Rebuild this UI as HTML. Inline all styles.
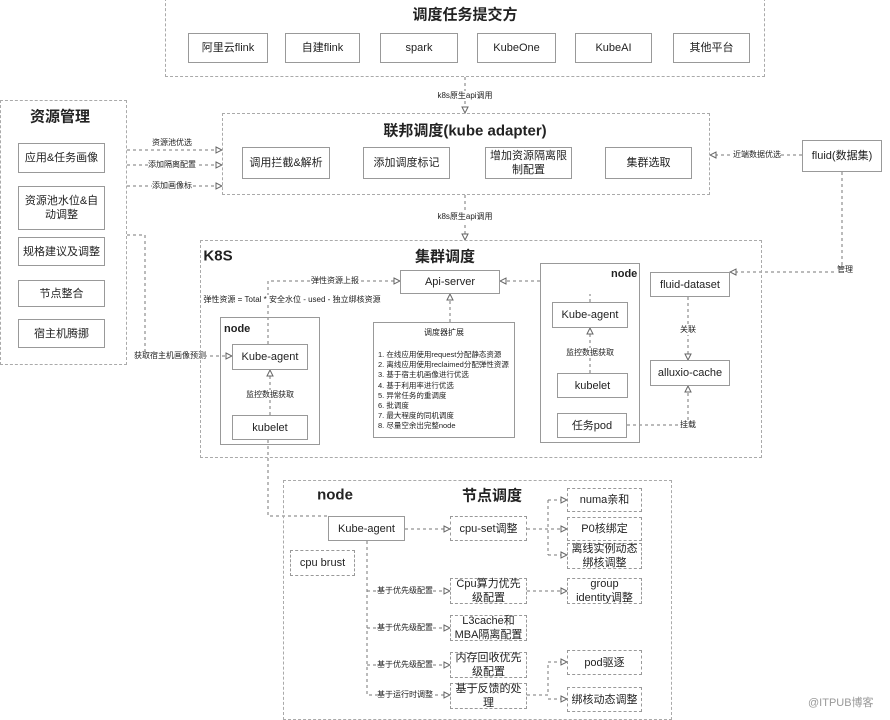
<!DOCTYPE html>
<html><head><meta charset="utf-8"><style>
body{margin:0;width:890px;height:717px;background:#fff;position:relative;overflow:hidden;font-family:"Liberation Sans","Noto Sans CJK SC",sans-serif;color:#222}
.b{position:absolute;box-sizing:border-box;border:1px solid #999;background:#fff;display:flex;align-items:center;justify-content:center;text-align:center;font-size:11px;line-height:14px}
.d{position:absolute;box-sizing:border-box;border:1.5px dashed #aaa}
.s{position:absolute;box-sizing:border-box;border:1px solid #999}
.t{position:absolute;white-space:nowrap;font-size:8px;background:#fff;transform:translate(-50%,-50%);line-height:10px}
.h{position:absolute;white-space:nowrap;font-weight:bold;font-size:15px;transform:translate(-50%,-50%)}
.dd{border:1px dashed #999}
svg{position:absolute;left:0;top:0}
</style></head><body>
<svg width="890" height="717" fill="none" stroke="#777" stroke-width="1" stroke-dasharray="3,3">
<defs><marker id="a" markerWidth="8" markerHeight="8" refX="7" refY="4" orient="auto"><path d="M1,1 L7,4 L1,7 Z" fill="#fff" stroke="#666" stroke-dasharray="none"/></marker></defs>
<path d="M465 77V113" marker-end="url(#a)"/>
<path d="M465 195V240" marker-end="url(#a)"/>
<path d="M127 150H222" marker-end="url(#a)"/>
<path d="M127 165H222" marker-end="url(#a)"/>
<path d="M127 186H222" marker-end="url(#a)"/>
<path d="M802 155H710" marker-end="url(#a)"/>
<path d="M842 172V272H730" marker-end="url(#a)"/>
<path d="M268 344V281H400" marker-end="url(#a)"/>
<path d="M540 281H500" marker-end="url(#a)"/>
<path d="M450 322V294" marker-end="url(#a)"/>
<path d="M590 302V294" />
<path d="M127 235H145V356H232" marker-end="url(#a)"/>
<path d="M270 415V370" marker-end="url(#a)"/>
<path d="M590 373V328" marker-end="url(#a)"/>
<path d="M688 297V360" marker-end="url(#a)"/>
<path d="M627 425H688V386" marker-end="url(#a)"/>
<path d="M268 440V516H328"/>
<path d="M405 529H450" marker-end="url(#a)"/>
<path d="M527 529H567" marker-end="url(#a)"/>
<path d="M548 500V555" />
<path d="M548 500H567" marker-end="url(#a)"/><path d="M548 555H567" marker-end="url(#a)"/>
<path d="M367 541V695H450" marker-end="url(#a)"/>
<path d="M367 591H450" marker-end="url(#a)"/>
<path d="M367 628H450" marker-end="url(#a)"/>
<path d="M367 665H450" marker-end="url(#a)"/>
<path d="M527 591H567" marker-end="url(#a)"/>
<path d="M527 695H548V662H567" marker-end="url(#a)"/>
<path d="M548 699H567" marker-end="url(#a)"/>
</svg>
<div class="d" style="left:165px;top:-2px;width:600px;height:79px"></div>
<div class="h" style="left:465px;top:14px">调度任务提交方</div>
<div class="b" style="left:188px;top:33px;width:80px;height:30px">阿里云flink</div>
<div class="b" style="left:285px;top:33px;width:75px;height:30px">自建flink</div>
<div class="b" style="left:380px;top:33px;width:78px;height:30px">spark</div>
<div class="b" style="left:477px;top:33px;width:79px;height:30px">KubeOne</div>
<div class="b" style="left:575px;top:33px;width:77px;height:30px">KubeAI</div>
<div class="b" style="left:673px;top:33px;width:77px;height:30px">其他平台</div>
<div class="t" style="left:465px;top:96px">k8s原生api调用</div>
<div class="d" style="left:222px;top:113px;width:488px;height:82px"></div>
<div class="h" style="left:465px;top:130px">联邦调度(kube adapter)</div>
<div class="b" style="left:242px;top:147px;width:88px;height:32px">调用拦截&amp;解析</div>
<div class="b" style="left:363px;top:147px;width:87px;height:32px">添加调度标记</div>
<div class="b" style="left:485px;top:147px;width:87px;height:32px">增加资源隔离限<br>制配置</div>
<div class="b" style="left:605px;top:147px;width:87px;height:32px">集群选取</div>
<div class="t" style="left:465px;top:217px">k8s原生api调用</div>
<div class="d" style="left:0;top:100px;width:127px;height:265px"></div>
<div class="h" style="left:60px;top:116px">资源管理</div>
<div class="b" style="left:18px;top:143px;width:87px;height:30px">应用&amp;任务画像</div>
<div class="b" style="left:18px;top:186px;width:87px;height:44px">资源池水位&amp;自<br>动调整</div>
<div class="b" style="left:18px;top:237px;width:87px;height:29px">规格建议及调整</div>
<div class="b" style="left:18px;top:280px;width:87px;height:27px">节点整合</div>
<div class="b" style="left:18px;top:319px;width:87px;height:29px">宿主机腾挪</div>
<div class="t" style="left:172px;top:143px">资源池优选</div>
<div class="t" style="left:172px;top:165px">添加隔离配置</div>
<div class="t" style="left:172px;top:186px">添加画像标</div>
<div class="t" style="left:170px;top:356px">获取宿主机画像预测</div>
<div class="b" style="left:802px;top:140px;width:80px;height:32px">fluid(数据集)</div>
<div class="t" style="left:757px;top:155px">近端数据优选</div>
<div class="t" style="left:845px;top:270px">管理</div>
<div class="d" style="left:200px;top:240px;width:562px;height:218px"></div>
<div class="h" style="left:218px;top:256px">K8S</div>
<div class="h" style="left:445px;top:256px">集群调度</div>
<div class="b" style="left:400px;top:270px;width:100px;height:24px">Api-server</div>
<div class="t" style="left:335px;top:281px">弹性资源上报</div>
<div class="t" style="left:292px;top:300px">弹性资源 = Total * 安全水位 - used - 独立绑核资源</div>
<div class="s" style="left:220px;top:317px;width:100px;height:128px"></div>
<div style="position:absolute;left:224px;top:323px;font-size:11px;font-weight:bold">node</div>
<div class="b" style="left:232px;top:344px;width:76px;height:26px">Kube-agent</div>
<div class="t" style="left:270px;top:395px">监控数据获取</div>
<div class="b" style="left:232px;top:415px;width:76px;height:25px">kubelet</div>
<div class="s" style="left:373px;top:322px;width:142px;height:116px"></div>
<div class="t" style="left:444px;top:333px">调度器扩展</div>
<div style="position:absolute;left:378px;top:350px;font-size:7.5px;line-height:10.2px;white-space:nowrap">1. 在线应用使用request分配静态资源<br>2. 离线应用使用reclaimed分配弹性资源<br>3. 基于宿主机画像进行优选<br>4. 基于利用率进行优选<br>5. 异常任务的重调度<br>6. 批调度<br>7. 最大程度的同机调度<br>8. 尽量空余出完整node</div>
<div class="s" style="left:540px;top:263px;width:100px;height:180px"></div>
<div style="position:absolute;left:611px;top:268px;font-size:11px;font-weight:bold">node</div>
<div class="b" style="left:552px;top:302px;width:76px;height:26px">Kube-agent</div>
<div class="t" style="left:590px;top:353px">监控数据获取</div>
<div class="b" style="left:557px;top:373px;width:71px;height:25px">kubelet</div>
<div class="b" style="left:557px;top:413px;width:70px;height:25px">任务pod</div>
<div class="b" style="left:650px;top:272px;width:80px;height:25px">fluid-dataset</div>
<div class="t" style="left:688px;top:330px">关联</div>
<div class="b" style="left:650px;top:360px;width:80px;height:26px">alluxio-cache</div>
<div class="t" style="left:688px;top:425px">挂载</div>
<div class="d" style="left:283px;top:480px;width:389px;height:240px"></div>
<div class="h" style="left:335px;top:495px">node</div>
<div class="h" style="left:492px;top:495px">节点调度</div>
<div class="b" style="left:328px;top:516px;width:77px;height:25px">Kube-agent</div>
<div class="b dd" style="left:290px;top:550px;width:65px;height:26px">cpu brust</div>
<div class="b dd" style="left:450px;top:516px;width:77px;height:25px">cpu-set调整</div>
<div class="b dd" style="left:567px;top:488px;width:75px;height:24px">numa亲和</div>
<div class="b dd" style="left:567px;top:517px;width:75px;height:24px">P0核绑定</div>
<div class="b dd" style="left:567px;top:543px;width:75px;height:26px">离线实例动态<br>绑核调整</div>
<div class="b dd" style="left:450px;top:578px;width:77px;height:26px">Cpu算力优先<br>级配置</div>
<div class="b dd" style="left:567px;top:578px;width:75px;height:26px">group<br>identity调整</div>
<div class="b dd" style="left:450px;top:615px;width:77px;height:26px">L3cache和<br>MBA隔离配置</div>
<div class="b dd" style="left:450px;top:652px;width:77px;height:26px">内存回收优先<br>级配置</div>
<div class="b dd" style="left:450px;top:683px;width:77px;height:26px">基于反馈的处<br>理</div>
<div class="b dd" style="left:567px;top:650px;width:75px;height:25px">pod驱逐</div>
<div class="b dd" style="left:567px;top:687px;width:75px;height:25px">绑核动态调整</div>
<div class="t" style="left:405px;top:591px">基于优先级配置</div>
<div class="t" style="left:405px;top:628px">基于优先级配置</div>
<div class="t" style="left:405px;top:665px">基于优先级配置</div>
<div class="t" style="left:405px;top:695px">基于运行时调整</div>
<div style="position:absolute;left:808px;top:694px;font-size:11px;color:#999">@ITPUB博客</div>
</body></html>
